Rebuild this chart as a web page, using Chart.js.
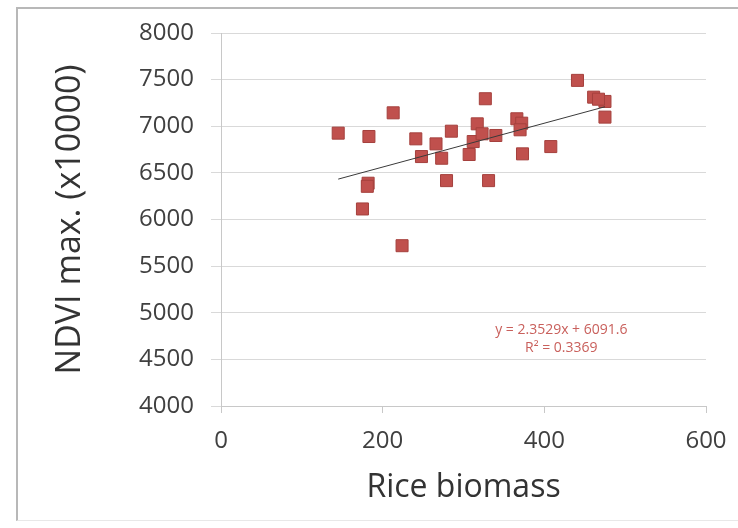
<!DOCTYPE html>
<html>
<head>
<meta charset="utf-8">
<script src="https://cdn.jsdelivr.net/npm/chart.js@4/dist/chart.umd.min.js"></script>
<style>
  body { margin: 0; background: #fff; }
  #wrap { position: relative; width: 738px; height: 528px; }
  #frame {
    position: absolute; left: 16px; top: 7px; width: 722px; height: 514px;
    border-left: 2px solid #b8b8b8; border-top: 2px solid #b8b8b8;
    border-bottom: 1px solid #e8e8e8; box-sizing: border-box;
  }
  canvas { position: absolute; left: 0; top: 0; }
</style>
</head>
<body>
<div id="wrap">
  <div id="frame"></div>
  <canvas id="chart" width="738" height="528"></canvas>
</div>
<script>
// values
const biomass = [145, 183, 213, 182, 181, 175, 224, 241, 248, 266, 273, 285, 279, 307, 312,
                 317, 323, 327, 331, 340, 366, 372, 370, 373, 408, 441, 461, 475, 475, 467];
const ndviMax = [6926, 6890, 7144, 6389, 6356, 6113, 5719, 6865, 6675, 6811, 6657, 6947, 6417, 6697, 6836,
                 7026, 6919, 7295, 6417, 6901, 7080, 7033, 6962, 6704, 6782, 7492, 7312, 7266, 7098, 7290];

// linear trendline ends, as drawn
const trendX = [145, 475];
const trendY = [6433, 7209];

const equationLines = ['y = 2.3529x + 6091.6', 'R\u00b2 = 0.3369'];
const equationX = 421;
const equationY = [4815, 4619];

const xTitle = 'Rice biomass';
const yTitle = 'NDVI max. (x10000)';

const points = biomass.map((b, i) => ({x: b, y: ndviMax[i]}));
const trend = trendX.map((t, i) => ({x: t, y: trendY[i]}));

const equationLabel = {
    id: 'equationLabel',
    afterDatasetsDraw(chart) {
        const {ctx, scales} = chart;
        ctx.save();
        ctx.font = '14px "Open Sans"';
        ctx.fillStyle = '#c9605c';
        ctx.textAlign = 'center';
        ctx.textBaseline = 'middle';
        equationLines.forEach((line, i) => {
            ctx.fillText(line, scales.x.getPixelForValue(equationX), scales.y.getPixelForValue(equationY[i]));
        });
        ctx.restore();
    }
};

new Chart(document.getElementById('chart'), {
    type: 'scatter',
    data: {
        datasets: [
            {
                data: trend,
                showLine: true,
                borderColor: '#3a3a3a',
                borderWidth: 1,
                pointRadius: 0
            },
            {
                data: points,
                pointStyle: 'rect',
                pointRadius: 8.5,
                backgroundColor: '#c0504d',
                borderColor: '#a5403d',
                borderWidth: 1
            }
        ]
    },
    options: {
        responsive: false,
        animation: false,
        layout: {padding: {top: 33, right: 32, bottom: 0, left: 0}},
        plugins: {legend: {display: false}, tooltip: {enabled: false}},
        scales: {
            x: {
                type: 'linear',
                min: 0,
                max: 600,
                afterFit: (scale) => {
                    scale.height = 122
                    scale.paddingRight = 22
                },
                ticks: {stepSize: 200, padding: 14, color: '#404040', font: {family: 'Open Sans', size: 24},
                        callback: (v) => String(v)},
                grid: {drawOnChartArea: false, tickLength: 7, color: '#c8c8c8'},
                border: {color: '#c8c8c8'},
                title: {
                    display: true,
                    text: xTitle,
                    color: '#333',
                    font: {family: 'Open Sans', size: 32},
                    padding: {top: 0, bottom: 21}
                }
            },
            y: {
                min: 4000,
                max: 8000,
                afterFit: (scale) => { scale.width = 221 },
                ticks: {stepSize: 500, padding: 17, color: '#404040', font: {family: 'Open Sans', size: 24},
                        callback: (v) => String(v)},
                grid: {color: '#d9d9d9', tickLength: 10},
                border: {color: '#c8c8c8'},
                title: {
                    display: true,
                    text: yTitle,
                    color: '#333',
                    font: {family: 'Open Sans', size: 34},
                    padding: {top: 50, bottom: 0}
                }
            }
        }
    },
    plugins: [equationLabel]
});
</script>
</body>
</html>
